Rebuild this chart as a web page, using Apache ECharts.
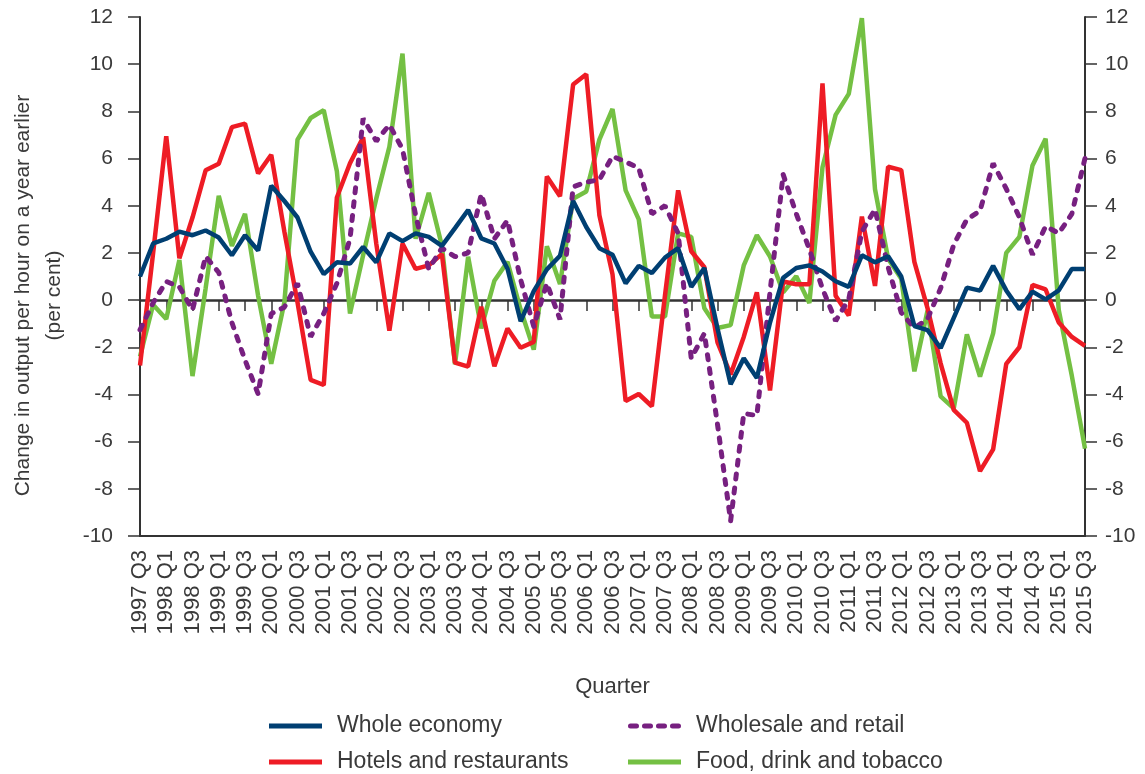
<!DOCTYPE html>
<html>
<head>
<meta charset="utf-8">
<script src="https://cdn.jsdelivr.net/npm/echarts@6/dist/echarts.min.js"></script>
<style>
html, body { margin: 0; padding: 0; background: #fff; }
#chart { width: 1145px; height: 774px; }
</style>
</head>
<body>
<div id="chart"></div>
<script>
// quarters, 1997 Q3 .. 2015 Q3
const quarters = [
  '1997 Q3', '1997 Q4',
  '1998 Q1', '1998 Q2', '1998 Q3', '1998 Q4',
  '1999 Q1', '1999 Q2', '1999 Q3', '1999 Q4',
  '2000 Q1', '2000 Q2', '2000 Q3', '2000 Q4',
  '2001 Q1', '2001 Q2', '2001 Q3', '2001 Q4',
  '2002 Q1', '2002 Q2', '2002 Q3', '2002 Q4',
  '2003 Q1', '2003 Q2', '2003 Q3', '2003 Q4',
  '2004 Q1', '2004 Q2', '2004 Q3', '2004 Q4',
  '2005 Q1', '2005 Q2', '2005 Q3', '2005 Q4',
  '2006 Q1', '2006 Q2', '2006 Q3', '2006 Q4',
  '2007 Q1', '2007 Q2', '2007 Q3', '2007 Q4',
  '2008 Q1', '2008 Q2', '2008 Q3', '2008 Q4',
  '2009 Q1', '2009 Q2', '2009 Q3', '2009 Q4',
  '2010 Q1', '2010 Q2', '2010 Q3', '2010 Q4',
  '2011 Q1', '2011 Q2', '2011 Q3', '2011 Q4',
  '2012 Q1', '2012 Q2', '2012 Q3', '2012 Q4',
  '2013 Q1', '2013 Q2', '2013 Q3', '2013 Q4',
  '2014 Q1', '2014 Q2', '2014 Q3', '2014 Q4',
  '2015 Q1', '2015 Q2', '2015 Q3'
];

const wholeEconomy = [
  1.0, 2.4, 2.6, 2.9, 2.75, 2.95, 2.65, 1.9, 2.75, 2.1,
  4.85, 4.2, 3.5, 2.05, 1.1, 1.6, 1.55, 2.25, 1.6, 2.83,
  2.5, 2.83, 2.68, 2.3, 3.05, 3.82, 2.62, 2.4, 1.33, -0.9,
  0.38, 1.3, 1.88, 4.2, 3.1, 2.2, 1.92, 0.71, 1.45, 1.15,
  1.8, 2.2, 0.56, 1.36, -1.2, -3.57, -2.47, -3.3, -0.95, 0.94,
  1.36, 1.47, 1.21, 0.8, 0.56, 1.9, 1.6, 1.86, 1.0, -1.1,
  -1.27, -2.03, -0.75, 0.53, 0.4, 1.45, 0.41, -0.39, 0.36, 0.03,
  0.41, 1.32, 1.32
];

const hotels = [
  -2.77, 2.0, 6.95, 1.77, 3.5, 5.5, 5.78, 7.33, 7.48, 5.37,
  6.16, 2.9, -0.1, -3.38, -3.6, 4.35, 5.8, 6.9, 2.4, -1.3,
  2.4, 1.32, 1.47, 1.95, -2.65, -2.82, -0.28, -2.8, -1.2, -2.02,
  -1.77, 5.24, 4.4, 9.14, 9.57, 3.6, 1.1, -4.28, -3.98, -4.5,
  0.2, 4.65, 2.07, 1.39, -1.79, -3.15, -1.56, 0.33, -3.83, 0.79,
  0.67, 0.67, 9.19, 0.18, -0.65, 3.54, 0.6, 5.65, 5.51, 1.62,
  -0.34, -2.68, -4.65, -5.2, -7.25, -6.33, -2.7, -2.0, 0.64, 0.45,
  -0.95, -1.56, -1.94
];

const wholesale = [
  -1.26, -0.12, 0.79, 0.56, -0.42, 1.85, 1.17, -0.95, -2.54, -3.98,
  -0.58, -0.3, 0.71, -1.55, -0.57, 0.71, 2.6, 7.7, 6.74, 7.43,
  6.4, 3.6, 1.32, 2.2, 1.84, 2.0, 4.5, 2.6, 3.38, 0.87,
  -1.12, 0.71, -0.82, 4.8, 5.0, 5.1, 6.1, 5.86, 5.6, 3.66,
  4.0, 2.83, -2.47, -1.41, -5.27, -9.36, -4.81, -4.89, 0.33, 5.33,
  3.66, 2.15, 0.48, -0.88, 0.03, 2.9, 3.85, 1.4, -0.53, -1.19,
  -0.8, 0.5, 2.35, 3.42, 3.78, 5.79, 4.72, 3.51, 1.92, 3.13,
  2.83, 3.66, 6.01
];

const food = [
  -2.39, -0.2, -0.8, 1.7, -3.22, 0.5, 4.42, 2.3, 3.66, 0.18,
  -2.7, -0.1, 6.8, 7.72, 8.05, 5.46, -0.57, 1.9, 4.3, 6.5,
  10.45, 2.6, 4.55, 2.3, -2.72, 1.84, -1.2, 0.82, 1.62, -0.4,
  -2.1, 2.28, 0.68, 4.3, 4.6, 6.8, 8.1, 4.65, 3.42, -0.7,
  -0.7, 2.83, 2.68, -0.35, -1.18, -1.06, 1.47, 2.75, 1.85, 0.33,
  1.01, -0.12, 5.63, 7.85, 8.74, 11.95, 4.7, 1.75, 0.9, -3.02,
  -0.45, -4.08, -4.59, -1.45, -3.24, -1.41, 2.0, 2.68, 5.71, 6.84,
  -0.42, -3.22, -6.3
];

const FONT = '"Liberation Sans", Arial, sans-serif';
const TEXT = '#3a3a3a';
const AXIS = '#333333';

const chart = echarts.init(document.getElementById('chart'));

function valueAxis(pos, margin) {
  return {
    type: 'value',
    position: pos,
    min: -10,
    max: 12,
    interval: 2,
    axisLine: { show: true, lineStyle: { color: AXIS, width: 2 } },
    axisTick: { show: true, length: 12, lineStyle: { color: AXIS, width: 1.5 } },
    splitLine: { show: false },
    axisLabel: { margin: margin, fontSize: 21, color: TEXT, fontFamily: FONT }
  };
}

const leftAxis = valueAxis('left', 27);
leftAxis.name = 'Change in output per hour on a year earlier\n(per cent)';
leftAxis.nameLocation = 'middle';
leftAxis.nameGap = 70;
leftAxis.nameTextStyle = { fontSize: 21, lineHeight: 31, color: TEXT, fontFamily: FONT, padding: [0, 38, 0, 0] };

// solid bar icon, and four round-ish dashes for the dashed series
const solidIcon = 'rect';
const dashIcon = 'path://M2,0h6a2,2 0 0 1 0,5h-6a2,2 0 0 1 0,-5z M16,0h6a2,2 0 0 1 0,5h-6a2,2 0 0 1 0,-5z M30,0h6a2,2 0 0 1 0,5h-6a2,2 0 0 1 0,-5z M44,0h6a2,2 0 0 1 0,5h-6a2,2 0 0 1 0,-5z';

function legendAt(name, icon, left, top) {
  return {
    data: [name],
    left: left,
    top: top,
    padding: 0,
    icon: icon,
    itemWidth: 53,
    itemHeight: 5,
    textStyle: { fontSize: 23, lineHeight: 24, color: TEXT, fontFamily: FONT, padding: [0, 0, 0, 10] }
  };
}

const option = {
  animation: false,
  backgroundColor: '#fff',
  grid: { left: 140, right: 60, top: 17, bottom: 238, outerBoundsMode: 'none' },
  xAxis: [
    {
      type: 'category',
      data: quarters,
      boundaryGap: false,
      position: 'bottom',
      axisLine: { onZero: false, lineStyle: { color: AXIS, width: 2 } },
      axisTick: { show: false },
      axisLabel: { interval: 1, rotate: 90, margin: 14, fontSize: 22, color: TEXT, fontFamily: FONT },
      name: 'Quarter',
      nameLocation: 'middle',
      nameGap: 140,
      nameTextStyle: { fontSize: 22, color: TEXT, fontFamily: FONT }
    },
    {
      type: 'category',
      data: quarters,
      boundaryGap: false,
      position: 'top',
      axisLine: { onZero: true, onZeroAxisIndex: 0, lineStyle: { color: AXIS, width: 2.5 } },
      axisTick: { show: true, inside: true, interval: 1, length: 11, lineStyle: { color: AXIS, width: 1.5 } },
      axisLabel: { show: false }
    }
  ],
  yAxis: [leftAxis, valueAxis('right', 20)],
  legend: [
    legendAt('Whole economy', solidIcon, 269, 714),
    legendAt('Wholesale and retail', dashIcon, 628, 714),
    legendAt('Hotels and restaurants', solidIcon, 269, 750),
    legendAt('Food, drink and tobacco', solidIcon, 628, 750)
  ],
  series: [
    {
      name: 'Food, drink and tobacco', type: 'line', data: food,
      symbol: 'none', showSymbol: false,
      lineStyle: { color: '#74c043', width: 4.5 }, itemStyle: { color: '#74c043' }
    },
    {
      name: 'Hotels and restaurants', type: 'line', data: hotels,
      symbol: 'none', showSymbol: false,
      lineStyle: { color: '#ee1c25', width: 4.5 }, itemStyle: { color: '#ee1c25' }
    },
    {
      name: 'Wholesale and retail', type: 'line', data: wholesale,
      symbol: 'none', showSymbol: false,
      lineStyle: { color: '#772080', width: 5, type: [5, 9], cap: 'round' },
      itemStyle: { color: '#772080' }
    },
    {
      name: 'Whole economy', type: 'line', data: wholeEconomy,
      symbol: 'none', showSymbol: false,
      lineStyle: { color: '#003f72', width: 4.5 }, itemStyle: { color: '#003f72' }
    }
  ]
};

chart.setOption(option);
</script>
</body>
</html>
